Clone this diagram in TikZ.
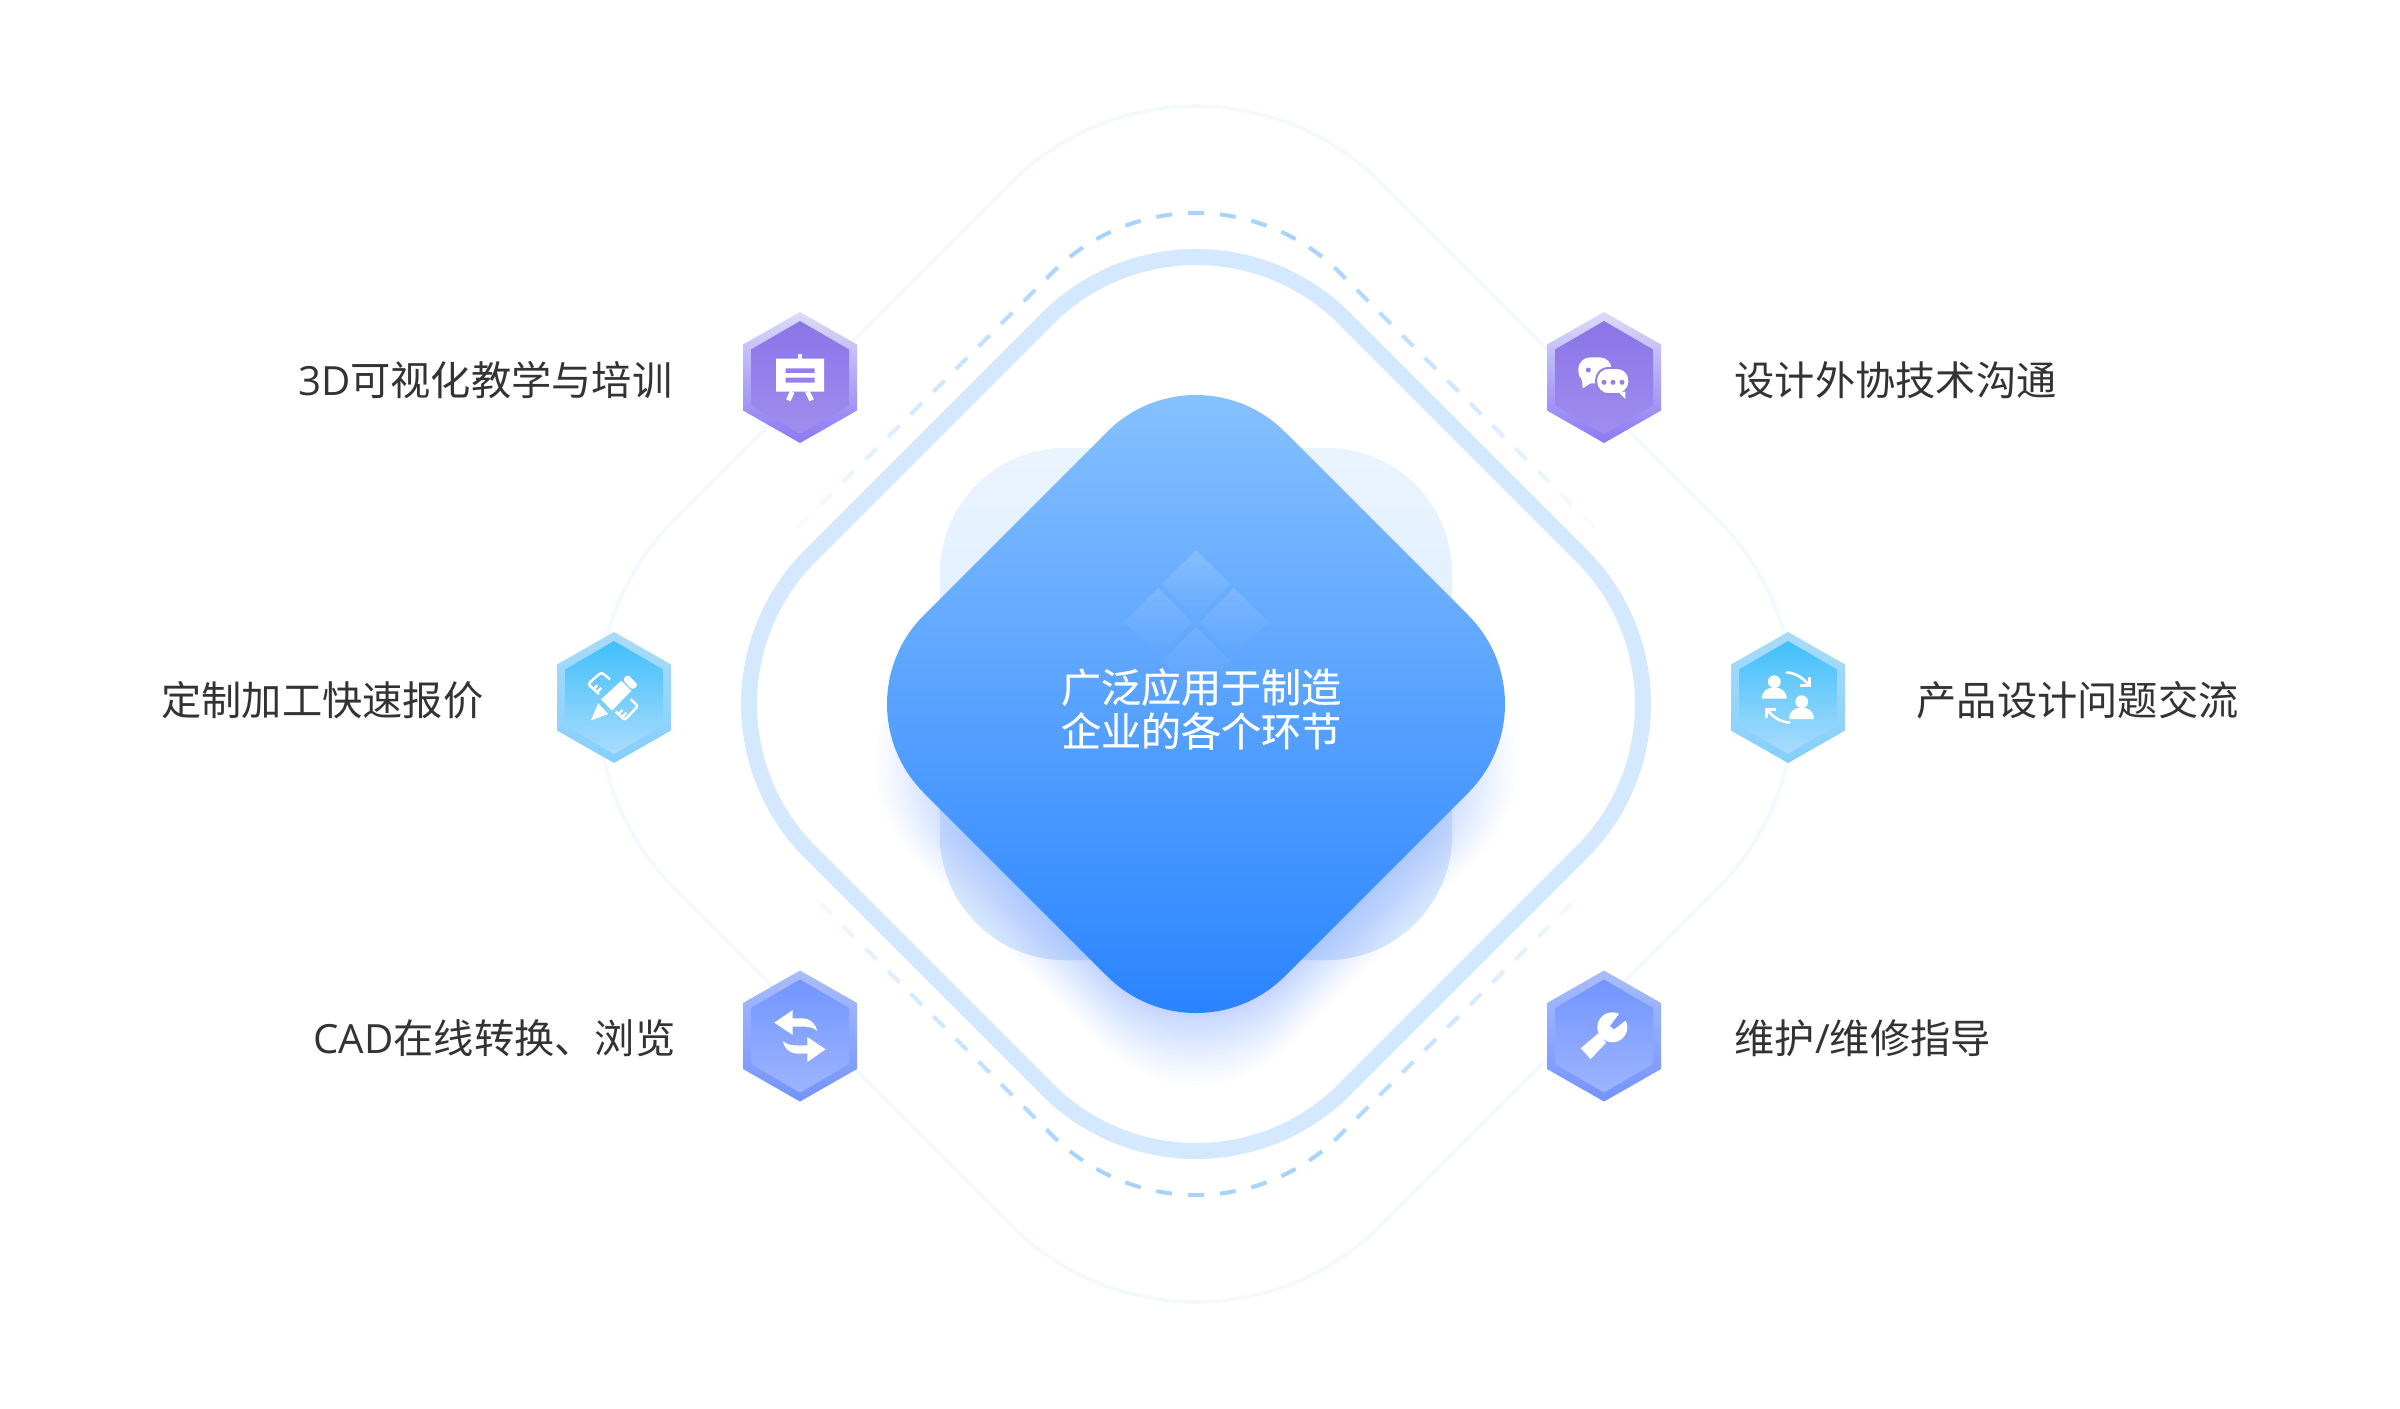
\documentclass[tikz,border=0pt]{standalone}
\usepackage{fontspec}
\setmainfont{Noto Sans CJK SC}
\newfontfamily\latinf{Open Sans}
\newfontfamily\cjkmed[FakeBold=0.35]{Noto Sans CJK SC}
\usetikzlibrary{fadings}
\definecolor{ringthin}{HTML}{F3F9FF}
\definecolor{ringthick}{HTML}{D4E9FF}
\definecolor{ringdash}{HTML}{A6D4FF}
\definecolor{labelc}{HTML}{333333}
\definecolor{glow}{HTML}{2B80FF}
\definecolor{backtop}{HTML}{EAF4FF}
\definecolor{backbot}{HTML}{D4E7FD}
\definecolor{maintop}{HTML}{8DC5FF}
\definecolor{mainbot}{HTML}{237FFF}
\definecolor{chatline}{HTML}{9180EA}
\definecolor{notch}{HTML}{7E9CFF}
\definecolor{pO}{HTML}{DCDCF8}\definecolor{pOb}{HTML}{8B78F5}\definecolor{pI}{HTML}{8A74E8}\definecolor{pIb}{HTML}{A08EEE}
\definecolor{cO}{HTML}{A8DBFA}\definecolor{cOb}{HTML}{85CFFC}\definecolor{cI}{HTML}{41BFFB}\definecolor{cIb}{HTML}{A9DCFB}
\definecolor{bO}{HTML}{A9BDFF}\definecolor{bOb}{HTML}{7393FF}\definecolor{bI}{HTML}{7295FF}\definecolor{bIb}{HTML}{9DB4FF}
\tikzset{
  lab/.style={text=labelc,inner sep=0pt,font=\fontsize{11.44pt}{13pt}\selectfont},
  dashseg/.style={draw=ringdash,line width=4*0.2845pt},
  ico/.style={line width=2.5*0.2845pt,draw=white,line cap=butt,line join=miter},
}
\newcommand\diampath[1]{(1196,{704-#1}) -- ({1196+#1},704) -- (1196,{704+#1}) -- ({1196-#1},704) -- cycle}
\newcommand\hexbadge[4]{%
  \shade[top color=#1,bottom color=#2] (0,-65.5)--(57,-33)--(57,33)--(0,65.5)--(-57,33)--(-57,-33)--cycle;
  \shade[top color=#3,bottom color=#4] (0,-56.5)--(49,-28)--(49,28)--(0,56.5)--(-49,28)--(-49,-28)--cycle;
}
\begin{document}
\begin{tikzpicture}[x=0.01cm,y=-0.01cm]
\useasboundingbox (0,0) rectangle (2400,1408);
\fill[white] (0,0) rectangle (2400,1408);
% outer thin ring
\draw[ringthin,line width=3.5*0.2845pt,rounded corners=2.61cm] \diampath{706};
% dashes: arc
\foreach \k in {-4,...,4}{
  \pgfmathsetmacro\aa{(32*\k-8)/203*180/pi}
  \pgfmathsetmacro\ab{(32*\k+8)/203*180/pi}
  \draw[dashseg] ({1196+203*sin(\aa)},{416-203*cos(\aa)}) -- ({1196+203*sin((\aa+\ab)/2)},{416-203*cos((\aa+\ab)/2)}) -- ({1196+203*sin(\ab)},{416-203*cos(\ab)});
  \draw[dashseg] ({1196+203*sin(\aa)},{992+203*cos(\aa)}) -- ({1196+203*sin((\aa+\ab)/2)},{992+203*cos((\aa+\ab)/2)}) -- ({1196+203*sin(\ab)},{992+203*cos(\ab)});
}
% dashes: straight runs, fading out
\foreach \k in {5,...,16}{
  \pgfmathsetmacro\ta{(32*\k-8-159.4)*0.7071}
  \pgfmathsetmacro\tb{(32*\k+8-159.4)*0.7071}
  \pgfmathsetmacro\op{max(0.05,1-(\k-4)/13)}
  \begin{scope}[opacity=\op]
  \draw[dashseg] ({1196-143.5-\ta},{272.5+\ta}) -- ({1196-143.5-\tb},{272.5+\tb});
  \draw[dashseg] ({1196+143.5+\ta},{272.5+\ta}) -- ({1196+143.5+\tb},{272.5+\tb});
  \ifnum\k<16
  \draw[dashseg] ({1196-143.5-\ta},{1135.5-\ta}) -- ({1196-143.5-\tb},{1135.5-\tb});
  \draw[dashseg] ({1196+143.5+\ta},{1135.5-\ta}) -- ({1196+143.5+\tb},{1135.5-\tb});
  \fi
  \end{scope}
}
% thick ring
\draw[ringthick,line width=16*0.2845pt,rounded corners=2.1cm] \diampath{534};
% back square
\shade[top color=backtop,bottom color=backbot,rounded corners=1.25cm] (940,448) rectangle (1452,960);
% glow under diamond
\begin{scope}[yshift=-0.6cm]
\foreach \i in {0,...,29}{
  \pgfmathsetmacro\vv{290+85*(\i/29)^1.5}
  \fill[glow,opacity=0.011,rounded corners=1.3cm] \diampath{\vv};
}
\end{scope}
% main diamond
\shade[top color=maintop,bottom color=mainbot,rounded corners=1.255cm] \diampath{361};
% faint mark
\fill[white,fill opacity=0.17,path fading=south] (1196,550)--(1230,584)--(1196,618)--(1162,584)--cycle;
\fill[white,fill opacity=0.13,path fading=south] (1158,588)--(1192,622)--(1158,656)--(1124,622)--cycle;
\fill[white,fill opacity=0.13,path fading=south] (1234,588)--(1268,622)--(1234,656)--(1200,622)--cycle;
\fill[white,fill opacity=0.09,path fading=south] (1196,627)--(1230,661)--(1196,695)--(1162,661)--cycle;
% centre text
\node[text=white,inner sep=0pt,align=center,font=\cjkmed\fontsize{11.38pt}{12.5pt}\selectfont] (centre) at (1201,709) {广泛应用于制造\\企业的各个环节};
% badge 1: easel
\begin{scope}[shift={(800,377.5)}]
\hexbadge{pO}{pOb}{pI}{pIb}
\fill[white,even odd rule] (-24,-18.8) rectangle (24,14.2) (-14.3,-9.2) rectangle (14.7,-4.5) (-14.3,0.2) rectangle (14.7,5.2);
\fill[white] (-2.3,-23.5) rectangle (2.3,-18.8);
\draw[white,line width=4.8*0.2845pt] (-7.7,14.2) -- (-11.7,22.8);
\draw[white,line width=4.8*0.2845pt] (7.3,14.2) -- (11.7,22.8);
\end{scope}
% badge 2: chat
\begin{scope}[shift={(1604,377.5)}]
\hexbadge{pO}{pOb}{pI}{pIb}
\fill[white,rounded corners=0.12cm] (-25.7,-20.2) rectangle (7.7,5.8);
\fill[white] (-22,2) -- (-21.3,10.8) -- (-12,5) -- cycle;
\filldraw[fill=white,draw=chatline,line width=2*0.2845pt,rounded corners=0.125cm] (-8,-9.7) rectangle (25.4,16.7);
\fill[white] (15,15) -- (21.3,21.5) -- (21.3,14) -- cycle;
\fill[chatline] (-15.7,-7.5) circle[radius=2.5] (0,4.8) circle[radius=2.5] (9,4.8) circle[radius=2.5] (18,4.8) circle[radius=2.5];
\end{scope}
% badge 3: pencil and rulers
\begin{scope}[shift={(614,697.5)}]
\hexbadge{cO}{cOb}{cI}{cIb}
\fill[white] (-23,22.8) -- (-15.7,5.8) -- (-5.7,16.5) -- cycle;
\fill[white] (-13,1.8) -- (7.3,-16.8) -- (17.3,-6.8) -- (-2,13.2) -- cycle;
\fill[white,rounded corners=0.03cm] (13.3,-23.2) -- (24.3,-12.5) -- (18.3,-7.5) -- (8.7,-17.5) -- cycle;
\draw[ico,rounded corners=0.025cm] (-4,-18.2) -- (-12.7,-25.2) -- (-26,-13.5) -- (-15,-3.5);
\draw[ico] (-20.7,-8.2) -- (-16.7,-12.2);
\draw[ico] (-17.3,-5.5) -- (-12.7,-9.5);
\draw[ico,rounded corners=0.025cm] (16.7,1.8) -- (24,8.5) -- (10.7,22.5) -- (1.7,14.2);
\draw[ico] (4.3,16.8) -- (8.3,12.5);
\draw[ico] (7.7,19.8) -- (12.3,15.2);
\end{scope}
% badge 4: people
\begin{scope}[shift={(1788,697.5)}]
\hexbadge{cO}{cOb}{cI}{cIb}
\foreach \s in {1,-1}{
  \begin{scope}[xscale=\s,yscale=\s]
  \draw[white,line width=2.6*0.2845pt,line cap=round] (-1.3,-25) .. controls (7,-24.5) and (13,-21) .. (19,-14.5);
  \draw[white,line width=2.6*0.2845pt,line join=miter] (21.3,-20.8) -- (21.3,-12) -- (12,-12);
  \end{scope}
}
\fill[white] (-13.7,-15.8) circle[radius=6.4];
\fill[white] (13.7,4.2) circle[radius=6.4];
\fill[white] (-26.3,1.2) .. controls (-26.3,-6) and (-21,-10) .. (-13.8,-10) .. controls (-6.6,-10) and (-1.3,-6) .. (-1.3,1.2) -- cycle;
\fill[white] (1,21.5) .. controls (1,14) and (6.3,10) .. (13.5,10) .. controls (20.7,10) and (26,14) .. (26,21.5) -- cycle;
\end{scope}
% badge 5: swap arrows
\begin{scope}[shift={(800,1036)}]
\hexbadge{bO}{bOb}{bI}{bIb}
\foreach \s in {1,-1}{
  \begin{scope}[xscale=\s,yscale=\s]
  \fill[white] (-25.7,-13.3) -- (-7.3,-26) -- (-7.3,-17.7) -- (3,-17.7) .. controls (10,-17.7) and (16,-12) .. (17.3,-5) .. controls (13,-9) and (7,-9.6) .. (0,-9.5) -- (-7.3,-9.3) -- (-7.3,-1) -- cycle;
  \end{scope}
}
\end{scope}
% badge 6: wrench
\begin{scope}[shift={(1604,1036)}]
\hexbadge{bO}{bOb}{bI}{bIb}
\fill[white] (8.3,-8.7) circle[radius=15];
\fill[white] (-23.3,12.3) -- (-13.3,23) -- (2,6.7) -- (-5.7,-2.7) -- cycle;
\fill[notch] (6,-10) -- (10,-6.7) -- (24,-17.5) -- (17,-24.5) -- cycle;
\end{scope}
% labels
\node[lab,anchor=east] (l1) at (673,380.5) {{\latinf 3D}可视化教学与培训};
\node[lab,anchor=west] (l2) at (1734,380.5) {设计外协技术沟通};
\node[lab,anchor=east] (l3) at (484,700.5) {定制加工快速报价};
\node[lab,anchor=west] (l4) at (1916,700.5) {产品设计问题交流};
\node[lab,anchor=east] (l5) at (676,1038.5) {{\latinf CAD}在线转换、浏览};
\node[lab,anchor=west] (l6) at (1734,1038.5) {维护{\latinf /}维修指导};
\end{tikzpicture}
\end{document}
